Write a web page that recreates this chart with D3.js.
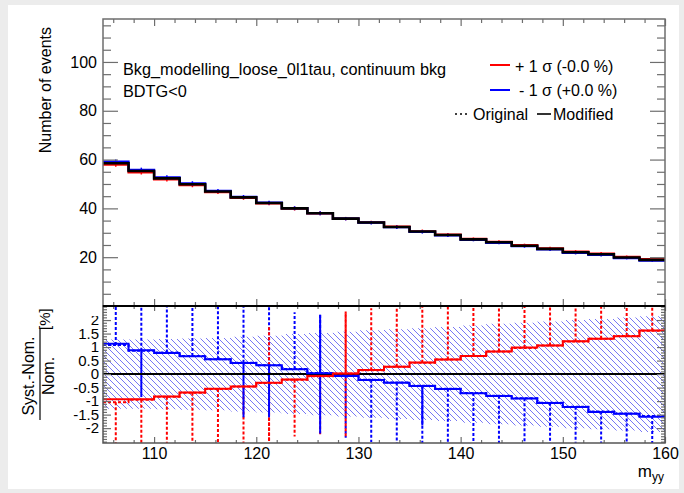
<!DOCTYPE html>
<html>
<head>
<meta charset="utf-8">
<script src="https://cdn.jsdelivr.net/npm/d3@7"></script>
<style>
  html, body { margin: 0; padding: 0; background: #ececec; }
  svg { display: block; }
  text { font-family: "Liberation Sans", Arial, sans-serif; fill: #000; }
</style>
</head>
<body>
<svg id="chart" width="684" height="493"></svg>
<script>
// bins of m_yy (2.5 GeV wide)
var binEdges = [105, 107.5, 110, 112.5, 115, 117.5, 120, 122.5, 125, 127.5, 130,
  132.5, 135, 137.5, 140, 142.5, 145, 147.5, 150, 152.5, 155, 157.5, 160];

// nominal yields, upper pad
var nominal = [58.5, 55.3, 52.3, 49.9, 46.9, 44.5, 42.2, 40.0, 38.0, 35.8, 34.2,
  32.4, 30.5, 29.1, 27.3, 26.1, 24.7, 23.4, 22.0, 21.2, 19.9, 18.9];
var upStatErr = [0.9, 0.9, 0.9, 0.9, 0.8, 0.8, 0.8, 0.8, 0.8, 0.7, 0.7,
  0.7, 0.7, 0.7, 0.6, 0.6, 0.6, 0.6, 0.6, 0.6, 0.5, 0.5];

// (syst - nom)/nom in %, lower pad
var upMod = [-0.93, -0.93, -0.83, -0.68, -0.54, -0.46, -0.32, -0.20, -0.07, 0.02, 0.15,
  0.27, 0.43, 0.54, 0.67, 0.84, 0.98, 1.06, 1.22, 1.31, 1.40, 1.61];
var downMod = [1.12, 0.88, 0.78, 0.66, 0.55, 0.41, 0.33, 0.18, 0.03, -0.07, -0.22,
  -0.32, -0.44, -0.55, -0.71, -0.81, -0.90, -1.07, -1.22, -1.40, -1.47, -1.58];
var upOrig = [-1.04, -0.95, -0.84, -0.69, -0.55, -0.46, -0.33, -0.21, -0.08, 0.02, 0.14,
  0.27, 0.42, 0.54, 0.67, 0.84, 0.97, 1.06, 1.21, 1.31, 1.41, 1.60];
var downOrig = [1.08, 0.86, 0.80, 0.67, 0.55, 0.42, 0.33, 0.19, 0.04, -0.06, -0.21,
  -0.31, -0.43, -0.54, -0.70, -0.80, -0.89, -1.06, -1.21, -1.38, -1.46, -1.55];
var ratioErr = [2.3, 2.3, 2.3, 2.3, 2.25, 2.25, 2.2, 2.1, 2.2, 2.3, 2.3,
  2.3, 2.3, 2.3, 2.3, 2.3, 2.3, 2.3, 2.3, 2.3, 2.3, 2.3];
var bandErr = [1.28, 1.28, 1.30, 1.32, 1.34, 1.38, 1.42, 1.48, 1.52, 1.57, 1.62,
  1.66, 1.70, 1.74, 1.80, 1.86, 1.90, 1.95, 2.00, 2.04, 2.09, 2.14];
// extra visible bar pieces (bin index, low, high)
var downSolidBars = [[1, -0.85, 0.88], [5, -1.6, 0.41], [6, -1.6, 0.33], [8, -2.2, 2.2], [12, -1.9, -0.44]];
var upDottedBars = [[6, -2.45, 1.75], [9, -2.3, 2.28]];

var upYMajor = [20, 40, 60, 80, 100];
var lowYMajor = [-2, -1.5, -1, -0.5, 0, 0.5, 1, 1.5, 2];
var xMajor = [110, 120, 130, 140, 150, 160];

var svg = d3.select("#chart");
svg.append("rect").attr("x", 8).attr("y", 5).attr("width", 671).attr("height", 484).attr("fill", "#fff");

var x = d3.scaleLinear().domain([105, 160]).range([103, 665]);
var yUp = d3.scaleLinear().domain([0, 117.6]).range([306, 19]);
var yLo = d3.scaleLinear().domain([-2.55, 2.52]).range([443, 306]);

var defs = svg.append("defs");
defs.append("clipPath").attr("id", "clipUp").append("rect")
  .attr("x", 103).attr("y", 19).attr("width", 562).attr("height", 287);
defs.append("clipPath").attr("id", "clipLo").append("rect")
  .attr("x", 103).attr("y", 306).attr("width", 562).attr("height", 137);
defs.append("clipPath").attr("id", "clipLab").append("rect")
  .attr("x", 0).attr("y", 316).attr("width", 110).attr("height", 180);
var hatch = defs.append("pattern").attr("id", "hatch").attr("patternUnits", "userSpaceOnUse")
  .attr("width", 6).attr("height", 6);
hatch.append("path").attr("d", "M0,0L6,6M-1,5L1,7M5,-1L7,1")
  .attr("stroke", "#4a4af0").attr("stroke-width", 1).attr("opacity", 0.75);

function stepPoints(vals) {
  return binEdges.map(function(e, i) { return [e, vals[Math.min(i, vals.length - 1)]]; });
}
function stepLine(ys) {
  return d3.line().x(function(d) { return x(d[0]); }).y(function(d) { return ys(d[1]); }).curve(d3.curveStepAfter);
}
function center(i) { return (binEdges[i] + binEdges[i + 1]) / 2; }

// ---------- upper pad ----------
var up = svg.append("g").attr("clip-path", "url(#clipUp)");
var upVals = nominal.map(function(n, i) { return n * (1 + upMod[i] / 100); });
var downVals = nominal.map(function(n, i) { return n * (1 + downMod[i] / 100); });

[[upVals, "#ff0000"], [downVals, "#0000ff"]].forEach(function(s) {
  up.append("path").datum(stepPoints(s[0])).attr("d", stepLine(yUp))
    .attr("fill", "none").attr("stroke", s[1]).attr("stroke-width", 2.2);
  up.selectAll(null).data(s[0]).enter().append("line")
    .attr("x1", function(d, i) { return x(center(i)); })
    .attr("x2", function(d, i) { return x(center(i)); })
    .attr("y1", function(d, i) { return yUp(d - upStatErr[i]); })
    .attr("y2", function(d, i) { return yUp(d + upStatErr[i]); })
    .attr("stroke", s[1]).attr("stroke-width", 1.5);
});
up.append("path").datum(stepPoints(nominal)).attr("d", stepLine(yUp))
  .attr("fill", "none").attr("stroke", "#000").attr("stroke-width", 2.6);

// ---------- lower pad ----------
var lo = svg.append("g").attr("clip-path", "url(#clipLo)");
lo.append("path").datum(stepPoints(bandErr))
  .attr("d", d3.area().x(function(d) { return x(d[0]); })
    .y0(function(d) { return yLo(-d[1]); }).y1(function(d) { return yLo(d[1]); })
    .curve(d3.curveStepAfter))
  .attr("fill", "url(#hatch)");

function vbar(g, xv, a, b, color, dotted) {
  g.append("line").attr("x1", x(xv)).attr("x2", x(xv)).attr("y1", yLo(a)).attr("y2", yLo(b))
    .attr("stroke", color).attr("stroke-width", 2)
    .attr("stroke-dasharray", dotted ? "3,2" : null);
}
// dotted error bars of the original histograms, outward halves
upOrig.forEach(function(v, i) {
  var dir = v >= downOrig[i] ? 1 : -1;
  vbar(lo, center(i), v, v + dir * ratioErr[i], "#ff0000", true);
  var w = downOrig[i];
  vbar(lo, center(i), w, w - dir * ratioErr[i], "#0000ff", true);
});
upDottedBars.forEach(function(b) { vbar(lo, center(b[0]), b[1], b[2], "#ff0000", true); });
downSolidBars.forEach(function(b) { vbar(lo, center(b[0]), b[1], b[2], "#0000ff", false); });

lo.append("line").attr("x1", x(105)).attr("x2", x(160)).attr("y1", yLo(0)).attr("y2", yLo(0))
  .attr("stroke", "#000").attr("stroke-width", 2);

[[upOrig, "#ff0000", true], [downOrig, "#0000ff", true], [downMod, "#0000ff", false], [upMod, "#ff0000", false]]
  .forEach(function(s) {
    lo.append("path").datum(stepPoints(s[0])).attr("d", stepLine(yLo))
      .attr("fill", "none").attr("stroke", s[1]).attr("stroke-width", 2)
      .attr("stroke-dasharray", s[2] ? "3,2" : null);
  });

// ---------- axes ----------
var xMinor = d3.range(106, 161, 2).filter(function(v) { return v % 10 !== 0; });
var upYMinor = d3.range(5, 117, 5).filter(function(v) { return v % 20 !== 0; });
var lowYMinor = d3.range(-25, 26).map(function(v) { return v / 10; })
  .filter(function(v) { return lowYMajor.indexOf(v) < 0; });

function put(g, tx, ty, axis) {
  return g.append("g").attr("transform", "translate(" + tx + "," + ty + ")").call(axis);
}
var ax = svg.append("g");
// upper pad
put(ax, 103, 0, d3.axisLeft(yUp).tickValues(upYMajor).tickSizeInner(-15).tickSizeOuter(0).tickPadding(6).tickFormat(d3.format("d")));
put(ax, 103, 0, d3.axisLeft(yUp).tickValues(upYMinor).tickSizeInner(-8).tickSizeOuter(0).tickFormat(""));
put(ax, 665, 0, d3.axisRight(yUp).tickValues(upYMajor).tickSizeInner(-15).tickSizeOuter(0).tickFormat(""));
put(ax, 665, 0, d3.axisRight(yUp).tickValues(upYMinor).tickSizeInner(-8).tickSizeOuter(0).tickFormat(""));
put(ax, 0, 19, d3.axisTop(x).tickValues(xMajor).tickSizeInner(-7).tickSizeOuter(0).tickFormat(""));
put(ax, 0, 19, d3.axisTop(x).tickValues(xMinor).tickSizeInner(-4).tickSizeOuter(0).tickFormat(""));
put(ax, 0, 306, d3.axisBottom(x).tickValues(xMajor).tickSizeInner(-7).tickSizeOuter(0).tickFormat(""));
put(ax, 0, 306, d3.axisBottom(x).tickValues(xMinor).tickSizeInner(-4).tickSizeOuter(0).tickFormat(""));
// lower pad
put(ax, 103, 0, d3.axisLeft(yLo).tickValues(lowYMajor).tickSizeInner(-8).tickSizeOuter(0).tickFormat(""));
put(ax, 103, 0, d3.axisLeft(yLo).tickValues(lowYMinor).tickSizeInner(-4).tickSizeOuter(0).tickFormat(""));
put(ax, 665, 0, d3.axisRight(yLo).tickValues(lowYMajor).tickSizeInner(-8).tickSizeOuter(0).tickFormat(""));
put(ax, 665, 0, d3.axisRight(yLo).tickValues(lowYMinor).tickSizeInner(-4).tickSizeOuter(0).tickFormat(""));
put(ax, 0, 306, d3.axisTop(x).tickValues(xMajor).tickSizeInner(-5).tickSizeOuter(0).tickFormat(""));
put(ax, 0, 306, d3.axisTop(x).tickValues(xMinor).tickSizeInner(-3).tickSizeOuter(0).tickFormat(""));
put(ax, 0, 443, d3.axisBottom(x).tickValues(xMajor).tickSizeInner(-6).tickSizeOuter(0).tickPadding(5).tickFormat(d3.format("d")));
put(ax, 0, 443, d3.axisBottom(x).tickValues(xMinor).tickSizeInner(-3).tickSizeOuter(0).tickFormat(""));
var labG = svg.append("g").attr("clip-path", "url(#clipLab)");
put(labG, 103, 0, d3.axisLeft(yLo).tickValues(lowYMajor).tickSize(0).tickPadding(4).tickFormat(function(d) { return String(d); }));

svg.selectAll(".domain").remove();
svg.selectAll(".tick line").attr("stroke", "#6e6e6e").attr("stroke-width", 1.2);
svg.selectAll(".tick text").attr("font-size", 16).attr("font-family", "Liberation Sans, Arial, sans-serif").attr("fill", "#000");
labG.selectAll(".tick text").attr("font-size", 15);

// frames
svg.append("rect").attr("x", 103).attr("y", 19).attr("width", 562).attr("height", 287)
  .attr("fill", "none").attr("stroke", "#6e6e6e").attr("stroke-width", 1.5);
svg.append("rect").attr("x", 103).attr("y", 306).attr("width", 562).attr("height", 137)
  .attr("fill", "none").attr("stroke", "#555").attr("stroke-width", 1.5);
svg.append("line").attr("x1", 103).attr("x2", 665).attr("y1", 306).attr("y2", 306)
  .attr("stroke", "#000").attr("stroke-width", 2);

// ---------- texts ----------
function txt(xp, yp, s, size, anchor) {
  return svg.append("text").attr("x", xp).attr("y", yp).attr("font-size", size)
    .attr("text-anchor", anchor || "start").text(s);
}
txt(123, 75, "Bkg_modelling_loose_0l1tau, continuum bkg", 16.3);
txt(123, 97, "BDTG<0", 16.3);

svg.append("line").attr("x1", 490).attr("x2", 510).attr("y1", 65).attr("y2", 65).attr("stroke", "#ff0000").attr("stroke-width", 2);
txt(515, 71.5, "+ 1 σ (-0.0 %)", 16);
svg.append("line").attr("x1", 490).attr("x2", 510).attr("y1", 90).attr("y2", 90).attr("stroke", "#0000ff").attr("stroke-width", 2);
txt(519, 96, "- 1 σ (+0.0 %)", 16);
svg.append("line").attr("x1", 455).attr("x2", 470).attr("y1", 114).attr("y2", 114).attr("stroke", "#000")
  .attr("stroke-width", 1.6).attr("stroke-dasharray", "2,3");
txt(473, 120, "Original", 16);
svg.append("line").attr("x1", 537).attr("x2", 551).attr("y1", 114).attr("y2", 114).attr("stroke", "#000").attr("stroke-width", 1.6);
txt(553, 120, "Modified", 16);

// axis titles
svg.append("text").attr("transform", "translate(51,27) rotate(-90)").attr("text-anchor", "end")
  .attr("font-size", 16).text("Number of events");
svg.append("text").attr("transform", "translate(34,376) rotate(-90)").attr("text-anchor", "middle")
  .attr("font-size", 16).text("Syst.-Nom.");
svg.append("text").attr("transform", "translate(54,376) rotate(-90)").attr("text-anchor", "middle")
  .attr("font-size", 16).text("Nom.");
svg.append("line").attr("x1", 40).attr("x2", 40).attr("y1", 329).attr("y2", 420).attr("stroke", "#000").attr("stroke-width", 1.2);
svg.append("text").attr("transform", "translate(50,330) rotate(-90)").attr("text-anchor", "start")
  .attr("font-size", 15).text("[%]");

var xt = svg.append("text").attr("x", 664).attr("y", 477).attr("text-anchor", "end").attr("font-size", 17);
xt.append("tspan").text("m");
xt.append("tspan").attr("dy", 4).attr("font-size", 12).text("yy");
</script>
</body>
</html>
